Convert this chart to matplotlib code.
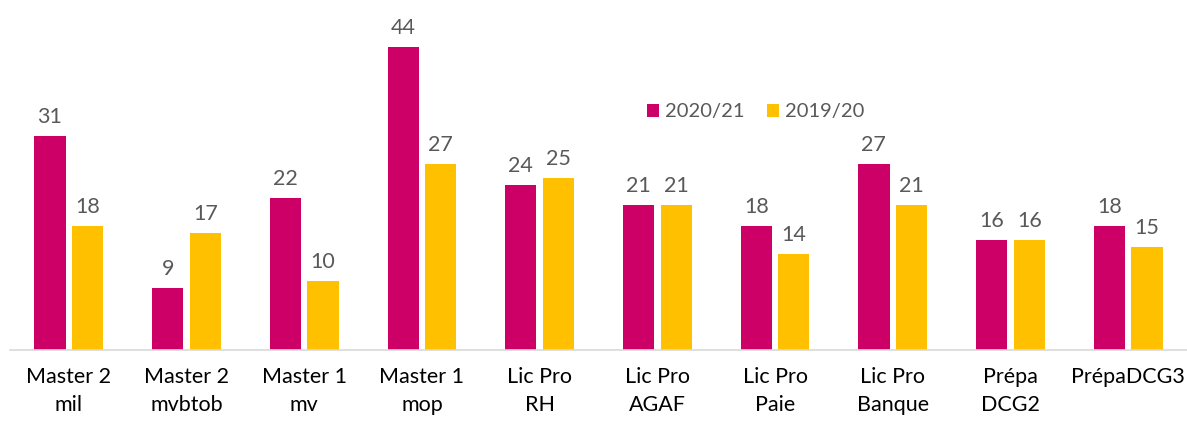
import matplotlib
matplotlib.use('Agg')
import matplotlib.pyplot as plt
import numpy as np

categories = ['Master 2\nmil', 'Master 2\nmvbtob', 'Master 1\nmv', 'Master 1\nmop', 'Lic Pro\nRH',
              'Lic Pro\nAGAF', 'Lic Pro\nPaie', 'Lic Pro\nBanque', 'Prépa\nDCG2', 'PrépaDCG3']
y2021 = [31, 9, 22, 44, 24, 21, 18, 27, 16, 18]
y1920 = [18, 17, 10, 27, 25, 21, 14, 21, 16, 15]

c1 = '#CC0066'
c2 = '#FFC000'
grey = '#595959'

plt.rcParams['font.family'] = ['Lato', 'DejaVu Sans']

fig = plt.figure(figsize=(11.87, 4.21), dpi=100)
ax = fig.add_axes([10/1187, 71/421, 1 - 10/1187, 350/421])

x = np.arange(len(categories))
w = 0.265
off = 0.16
b1 = ax.bar(x - off, y2021, w, color=c1, label='2020/21')
b2 = ax.bar(x + off, y1920, w, color=c2, label='2019/20')

for bars, vals in ((b1, y2021), (b2, y1920)):
    for r, v in zip(bars, vals):
        ax.annotate(str(v), (r.get_x() + r.get_width()/2, v), xytext=(0, 6.5),
                    textcoords='offset points', ha='center', va='bottom',
                    fontsize=15.5, color=grey)

ax.set_xlim(-0.5, 9.5)
ax.set_ylim(0, 350/6.89)
ax.set_xticks(x)
ax.set_xticklabels(categories, fontsize=15.5, color='black', linespacing=1.5)
ax.tick_params(axis='x', length=0, pad=12)
ax.set_yticks([])
for s in ['top', 'right', 'left']:
    ax.spines[s].set_visible(False)
ax.spines['bottom'].set_color('#D9D9D9')
ax.spines['bottom'].set_linewidth(1.2)

ax.legend(loc='center', bbox_to_anchor=(746/1177, 1 - 112/350), ncol=2, frameon=False,
          fontsize=14.5, labelcolor=grey, handlelength=0.6, handleheight=0.6,
          handletextpad=0.3, columnspacing=1.1)

fig.savefig('out.png', dpi=100)
